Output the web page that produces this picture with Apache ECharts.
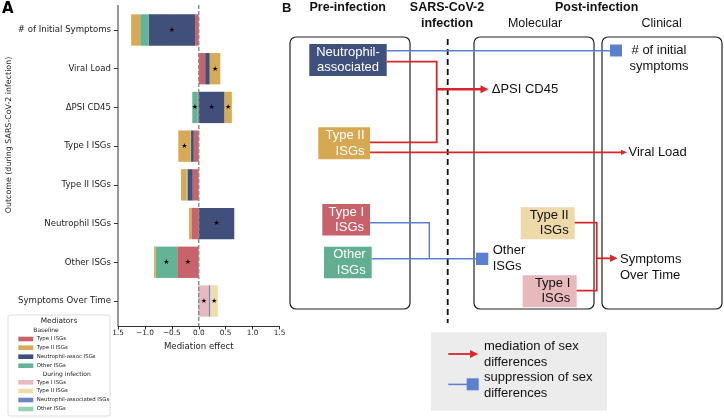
<!DOCTYPE html>
<html><head><meta charset="utf-8">
<script src="https://cdn.jsdelivr.net/npm/echarts@6/dist/echarts.min.js"></script>
<style>html,body{margin:0;padding:0;background:#fff}#c{width:724px;height:419px}</style>
</head><body><div id="c"></div>
<script>
// ---- Panel A data ----
const categories = ['# of Initial Symptoms','Viral Load','\u0394PSI CD45','Type I ISGs','Type II ISGs','Neutrophil ISGs','Other ISGs','Symptoms Over Time'];
const xTickLabels = ['1.5','\u22121.0','\u22120.5','0.0','0.5','1.0','1.5'];
// Baseline mediators (null = no bar)
const baseType1   = [-0.068, 0.12, -0.02, -0.093, -0.112, -0.137, -0.40, null];
const baseNeutro  = [-0.86, 0.085, 0.48, -0.05, -0.093, 0.66, null, null];
const baseOther   = [-0.16, null, -0.10, -0.012, -0.019, null, -0.40, null];
const baseType2   = [-0.168, 0.195, 0.135, -0.225, -0.106, -0.043, -0.03, null];
// During-infection mediators
const infType1    = [null, null, null, null, null, null, null, 0.187];
const infNeutro   = [null, null, null, null, null, null, null, 0.03];
const infOther    = [null, null, null, null, null, null, null, -0.01];
const infType2    = [null, null, null, null, null, null, null, 0.137];
// significance stars
const sigBaseType1  = [0,0,0,0,0,0,1,0];
const sigBaseNeutro = [1,0,1,0,0,1,0,0];
const sigBaseOther  = [0,0,1,0,0,0,1,0];
const sigBaseType2  = [0,1,1,1,0,0,0,0];
const sigInfType1   = [0,0,0,0,0,0,0,1];
const sigInfNeutro  = [0,0,0,0,0,0,0,0];
const sigInfOther   = [0,0,0,0,0,0,0,0];
const sigInfType2   = [0,0,0,0,0,0,0,1];
// legend labels
const baselineLabels  = ['Type I ISGs','Type II ISGs','Neutrophil-assoc ISGs','Other ISGs'];
const infectionLabels = ['Type I ISGs','Type II ISGs','Neutrophil-associated ISGs','Other ISGs'];

const C = {
  b1:'#c9636b', b2:'#d9aa55', bN:'#40507a', bO:'#63b396',
  i1:'#e8bac0', i2:'#f0dca8', iN:'#6a86c4', iO:'#91d2b9'
};
const DJ = 'DejaVu Sans';

// stacking (same-sign) in series order
const stackDefs = [
  ['Type I ISGs (baseline)', baseType1, C.b1, sigBaseType1],
  ['Neutrophil-assoc ISGs (baseline)', baseNeutro, C.bN, sigBaseNeutro],
  ['Other ISGs (baseline)', baseOther, C.bO, sigBaseOther],
  ['Type II ISGs (baseline)', baseType2, C.b2, sigBaseType2],
  ['Type I ISGs (infection)', infType1, C.i1, sigInfType1],
  ['Neutrophil-associated ISGs (infection)', infNeutro, C.iN, sigInfNeutro],
  ['Other ISGs (infection)', infOther, C.iO, sigInfOther],
  ['Type II ISGs (infection)', infType2, C.i2, sigInfType2]
];
const posAcc = categories.map(() => 0), negAcc = categories.map(() => 0);
const series = stackDefs.map(([name, vals, color, sig]) => {
  const data = [];
  vals.forEach((v, i) => {
    if (v === null) return;
    const acc = v >= 0 ? posAcc : negAcc;
    const s = acc[i], e = acc[i] + v;
    acc[i] = e;
    data.push([i, s, e, sig[i]]);
  });
  return {
    type:'custom', name, silent:true, z:2,
    encode:{y:0, x:[1, 2]},
    data,
    renderItem:(params, api) => {
      const i = api.value(0);
      const p0 = api.coord([api.value(1), i]);
      const p1 = api.coord([api.value(2), i]);
      const h = api.size([0, 1])[1] * 0.81;
      const children = [{type:'rect', shape:{x:Math.min(p0[0], p1[0]), y:p0[1] - h/2, width:Math.abs(p1[0] - p0[0]), height:h}, style:{fill:color}}];
      if (api.value(3)) children.push({type:'text', style:{text:'\u2605', x:(p0[0] + p1[0]) / 2, y:p0[1], align:'center', verticalAlign:'middle', font:'7px "DejaVu Sans"', fill:'#000'}});
      return {type:'group', children};
    }
  };
});
// dashed zero line
series.push({
  type:'custom', silent:true, z:5, encode:{x:0}, data:[[0]],
  renderItem:(params, api) => {
    const cs = params.coordSys;
    const x = api.coord([api.value(0), 0])[0];
    return {type:'line', shape:{x1:x, y1:cs.y - 5.6, x2:x, y2:cs.y + cs.height + 5.6}, style:{stroke:'#8a8a8a', lineWidth:1.4, lineDash:[4, 2]}};
  }
});

// ---- legend of panel A (graphic) ----
const g = [];
g.push({type:'text', x:2, y:2, style:{text:'A', font:'bold 15px "DejaVu Sans"', fill:'#000'}});
g.push({type:'text', x:9, y:135, rotation:Math.PI/2, style:{text:'Outcome (during SARS-CoV-2 infection)', font:'7.9px "DejaVu Sans"', fill:'#222', align:'center', verticalAlign:'middle'}});
g.push({type:'line', shape:{x1:118, y1:5, x2:118, y2:326}, style:{stroke:'#333', lineWidth:1}});
g.push({type:'rect', shape:{x:8, y:315, width:102, height:101, r:2}, style:{fill:'#fff', stroke:'#d4d4d4', lineWidth:0.8}});
g.push({type:'text', x:59, y:321, style:{text:'Mediators', font:'7.4px "DejaVu Sans"', fill:'#222', align:'center', verticalAlign:'middle'}});
g.push({type:'text', x:33.3, y:330.7, style:{text:'Baseline', font:'6px "DejaVu Sans"', fill:'#222', verticalAlign:'middle'}});
g.push({type:'text', x:42.7, y:374, style:{text:'During infection', font:'6px "DejaVu Sans"', fill:'#222', verticalAlign:'middle'}});
const baseCols = [C.b1, C.b2, C.bN, C.bO], infCols = [C.i1, C.i2, C.iN, C.iO];
const baseYs = [339, 347.7, 356.7, 365.7], infYs = [382.3, 391, 400, 409];
baselineLabels.forEach((t,i) => {
  g.push({type:'rect', shape:{x:18.3, y:baseYs[i]-2.3, width:15, height:4.6}, style:{fill:baseCols[i]}});
  g.push({type:'text', x:36.7, y:baseYs[i], style:{text:t, font:'5.4px "DejaVu Sans"', fill:'#222', verticalAlign:'middle'}});
});
infectionLabels.forEach((t,i) => {
  g.push({type:'rect', shape:{x:18.3, y:infYs[i]-2.3, width:15, height:4.6}, style:{fill:infCols[i]}});
  g.push({type:'text', x:36.7, y:infYs[i], style:{text:t, font:'5.4px "DejaVu Sans"', fill:'#222', verticalAlign:'middle'}});
});

// ---- Panel B diagram (graphic) ----
const RED = '#d8262b', BLUE = '#5b80d0';
function txt(x, y, text, opt) {
  opt = opt || {};
  g.push({type:'text', x, y, z:20, style:{text, fill:opt.fill || '#111',
    font:(opt.bold ? 'bold ' : '') + (opt.size || 13) + 'px "Liberation Sans"',
    align:opt.align || 'left', verticalAlign:'middle', lineHeight:opt.lh || 15.5}});
}
function box(x, y, w, h, fill) { g.push({type:'rect', z:10, shape:{x, y, width:w, height:h}, style:{fill}}); }
function rbox(x, y, w, h) { g.push({type:'rect', z:10, shape:{x, y, width:w, height:h, r:6}, style:{fill:'none', stroke:'#222', lineWidth:1.2}}); }
function line(pts, color, w, dash) { g.push({type:'polyline', z:12, shape:{points:pts}, style:{stroke:color, lineWidth:w, fill:null, lineDash:dash||null}}); }
function head(x, y, L, H) { g.push({type:'polygon', z:13, shape:{points:[[x-L, y-H], [x, y], [x-L, y+H]]}, style:{fill:RED}}); }
function sq(x, y, s) { g.push({type:'rect', z:13, shape:{x, y, width:s, height:s}, style:{fill:BLUE}}); }

txt(282, 8, 'B', {bold:true, size:13});
txt(347.7, 7.5, 'Pre-infection', {bold:true, size:12.5, align:'center'});
txt(447, 15.5, 'SARS-CoV-2\ninfection', {bold:true, size:12.5, align:'center', lh:16});
txt(596.7, 7.5, 'Post-infection', {bold:true, size:12.5, align:'center'});
txt(535, 23.5, 'Molecular', {size:12.5, align:'center'});
txt(661.7, 23.5, 'Clinical', {size:12.5, align:'center'});

rbox(290, 37, 120, 272);
rbox(474, 37, 120, 272);
rbox(602, 37, 120, 272);
line([[447.7, 39], [447.7, 323]], '#111', 1.8, [6, 4]);

box(309.3, 44, 77.4, 32, '#3f507c');
txt(348, 60, 'Neutrophil-\nassociated', {fill:'#fff', align:'center'});
box(318.3, 127.3, 51.7, 32, '#d6a851');
txt(364.5, 143.5, 'Type II\nISGs', {fill:'#fff', align:'right'});
box(322.3, 204, 47.7, 31.5, '#c8626a');
txt(364, 219.8, 'Type I\nISGs', {fill:'#fff', align:'right'});
box(324, 246.7, 47.7, 31.6, '#62ae90');
txt(365.7, 262.3, 'Other\nISGs', {fill:'#fff', align:'right'});
box(520.7, 207.3, 54, 32, '#eed9a9');
txt(568.7, 223, 'Type II\nISGs', {align:'right'});
box(522.7, 275.3, 54, 32, '#e7b9bd');
txt(570.3, 291, 'Type I\nISGs', {align:'right'});

// suppression lines
line([[386.7, 50.7], [611, 50.7]], BLUE, 1.5);
sq(610, 44.5, 12);
txt(659, 58.2, '# of initial\nsymptoms', {align:'center'});
line([[370, 222.7], [429.3, 222.7], [429.3, 258.7]], BLUE, 1.5);
line([[371.7, 258.7], [477, 258.7]], BLUE, 1.5);
sq(476, 252.7, 12.3);
txt(492.7, 258.2, 'Other\nISGs');

// mediation lines
line([[386.7, 61.7], [436.7, 61.7], [436.7, 142.3], [370, 142.3]], RED, 1.8);
line([[436.7, 89.3], [482, 89.3]], RED, 2.6);
head(488.5, 89.3, 8, 4);
txt(491.7, 89.5, '\u0394PSI CD45');
line([[370, 152.3], [622, 152.3]], RED, 1.8);
head(627, 152.3, 6, 2.6);
txt(628.5, 152.7, 'Viral Load');
line([[574.7, 222.7], [596.7, 222.7], [596.7, 290.7], [576.7, 290.7]], RED, 1.8);
line([[596.7, 258.3], [611, 258.3]], RED, 1.8);
head(617.5, 258.3, 7.5, 3.8);
txt(620, 267.5, 'Symptoms\nOver Time');

// legend panel B
g.push({type:'rect', z:10, shape:{x:431, y:332.3, width:176, height:78.4}, style:{fill:'#ececec'}});
line([[448.3, 354], [471, 354]], RED, 1.8);
head(478.3, 354, 8.3, 4);
txt(484, 354.2, 'mediation of sex\ndifferences');
line([[448.3, 384.4], [467, 384.4]], BLUE, 1.5);
sq(466.7, 378.3, 12);
txt(484, 385.2, 'suppression of sex\ndifferences');

const chart = echarts.init(document.getElementById('c'), null, {renderer:'canvas'});
chart.setOption({
  animation:false,
  backgroundColor:'#fff',
  grid:{left:118, top:10.65, width:161.5, height:309.7, containLabel:false},
  xAxis:{type:'value', min:-1.5, max:1.5, interval:0.5, offset:5.65,
    name:'Mediation effect', nameLocation:'middle', nameGap:16,
    nameTextStyle:{fontFamily:DJ, fontSize:8.6, color:'#222'},
    axisLine:{show:true, onZero:false, lineStyle:{color:'#333', width:1}},
    axisTick:{show:true, length:3.5, lineStyle:{color:'#333'}},
    axisLabel:{fontFamily:DJ, fontSize:7.3, color:'#222', margin:4,
      formatter:(v) => xTickLabels[Math.round((v + 1.5) / 0.5)]},
    splitLine:{show:false}},
  yAxis:{type:'category', data:categories, inverse:true,
    axisLine:{show:false, onZero:false},
    axisTick:{show:true, alignWithLabel:true, length:4, lineStyle:{color:'#333'}},
    axisLabel:{fontFamily:DJ, fontSize:8.6, color:'#222', margin:7}},
  series,
  graphic:{elements:g}
});
</script></body></html>
